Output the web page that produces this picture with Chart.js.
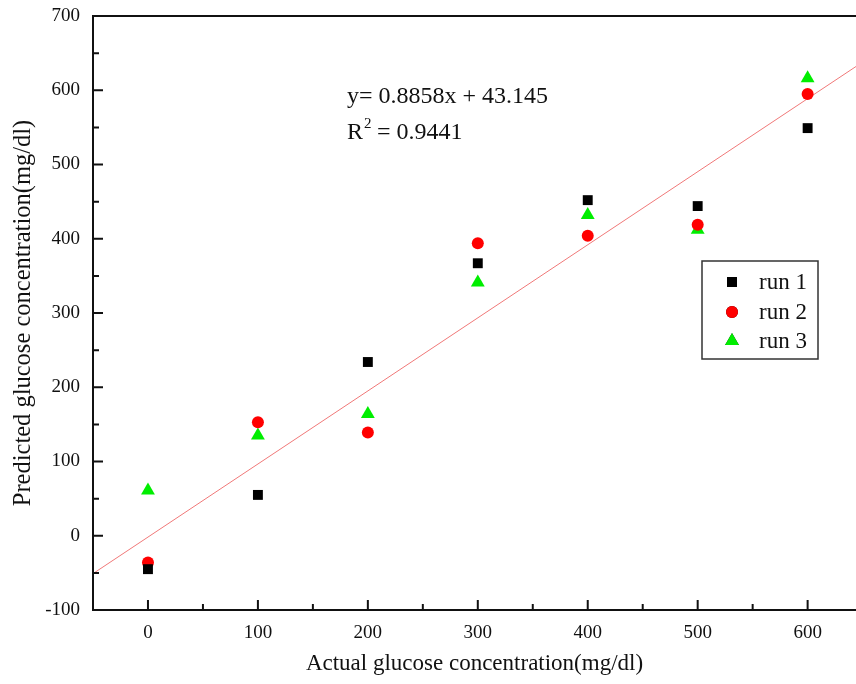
<!DOCTYPE html>
<html>
<head>
<meta charset="utf-8">
<script src="https://cdn.jsdelivr.net/npm/chart.js@4/dist/chart.umd.min.js"></script>
<style>
  body { margin: 0; background: #fff; overflow: hidden; }
  canvas { display: block; }
</style>
</head>
<body>
<canvas id="grafico" width="864" height="684"></canvas>
<script>
// datos
const concentracion = [0, 100, 200, 300, 400, 500, 600];
const run1 = [-45, 55, 234, 367, 452, 444, 549];
const run2 = [-36, 153, 139, 394, 404, 419, 595];
const run3 = [61, 135, 164, 341, 432, 412, 616];
const ajusteX = [-50, 645];
const ajusteY = [-51, 633];
const ticksX = [0, 100, 200, 300, 400, 500, 600];
const ticksY = [-100, 0, 100, 200, 300, 400, 500, 600, 700];
const nombres = ['run 1', 'run 2', 'run 3'];

const fuente = '"Liberation Serif", "Times New Roman", serif';
const tinta = '#111';

const puntos = (ys) => concentracion.map((x, i) => ({ x: x, y: ys[i] }));

// ticks hacia adentro, marco superior, ecuacion y leyenda
const extras = {
    id: 'extras',
    afterDraw(chart) {
        const ctx = chart.ctx;
        const a = chart.chartArea;
        const sx = chart.scales.x, sy = chart.scales.y;
        ctx.save();
        ctx.strokeStyle = tinta;
        ctx.lineWidth = 2;
        ctx.beginPath();
        ctx.moveTo(a.left - 1, a.top); ctx.lineTo(a.right, a.top);
        ticksX.forEach(v => {
            const p = sx.getPixelForValue(v);
            ctx.moveTo(p, a.bottom); ctx.lineTo(p, a.bottom - 10);
            const m = sx.getPixelForValue(v + 50);
            if (m < a.right) { ctx.moveTo(m, a.bottom); ctx.lineTo(m, a.bottom - 6); }
        });
        ticksY.forEach(v => {
            const p = sy.getPixelForValue(v);
            ctx.moveTo(a.left, p); ctx.lineTo(a.left + 10, p);
            if (v + 50 < 700) {
                const m = sy.getPixelForValue(v + 50);
                ctx.moveTo(a.left, m); ctx.lineTo(a.left + 6, m);
            }
        });
        ctx.stroke();

        // ecuacion
        ctx.fillStyle = tinta;
        ctx.textBaseline = 'alphabetic';
        ctx.font = '24px ' + fuente;
        ctx.fillText('y= 0.8858x + 43.145', 347, 103);
        ctx.fillText('R', 347, 139);
        const wR = ctx.measureText('R').width;
        ctx.font = '15px ' + fuente;
        ctx.fillText('2', 347 + wR + 1, 128);
        ctx.font = '24px ' + fuente;
        ctx.fillText(' = 0.9441', 347 + wR + 8, 139);

        // leyenda
        ctx.lineWidth = 1.5;
        ctx.strokeStyle = '#333';
        ctx.strokeRect(702, 261, 116, 98);
        const filas = [282, 312, 341];
        chart.data.datasets.slice(0, 3).forEach((d, i) => {
            Chart.helpers.drawPoint(ctx, {
                pointStyle: d.pointStyle, radius: d.pointRadius, rotation: 0, borderWidth: 0
            }, 732, filas[i]);
            ctx.fillStyle = d.backgroundColor;
            ctx.fill();
            ctx.fillStyle = tinta;
            ctx.font = '23px ' + fuente;
            ctx.textBaseline = 'middle';
            ctx.fillText(nombres[i], 759, filas[i] + 1);
        });
        ctx.restore();
    }
};

new Chart(document.getElementById('grafico'), {
    type: 'scatter',
    data: {
        datasets: [
            { label: nombres[0], data: puntos(run1), pointStyle: 'rect', pointRadius: 7,
              backgroundColor: '#000', borderWidth: 0, order: 1 },
            { label: nombres[1], data: puntos(run2), pointStyle: 'circle', pointRadius: 6,
              backgroundColor: '#ff0000', borderWidth: 0, order: 2 },
            { label: nombres[2], data: puntos(run3), pointStyle: 'triangle', pointRadius: 8,
              backgroundColor: '#00ee00', borderWidth: 0, order: 3 },
            { type: 'line', label: 'ajuste', data: ajusteX.map((x, i) => ({ x: x, y: ajusteY[i] })),
              borderColor: '#f07878', borderWidth: 1, pointRadius: 0, fill: false, order: 10 }
        ]
    },
    options: {
        responsive: false,
        animation: false,
        devicePixelRatio: 1,
        layout: { padding: { top: 16, right: 0, left: 0, bottom: 0 } },
        plugins: { legend: { display: false }, tooltip: { enabled: false } },
        scales: {
            x: {
                type: 'linear', min: -50, max: 644,
                afterBuildTicks: (s) => { s.ticks = ticksX.map(v => ({ value: v })); },
                afterFit: (s) => { s.height = 74; s.paddingLeft = 0; s.paddingRight = 0; },
                grid: { display: true, drawOnChartArea: false, drawTicks: false },
                border: { display: true, color: tinta, width: 2 },
                ticks: { color: tinta, padding: 12, font: { family: fuente, size: 19 } },
                title: { display: true, text: 'Actual glucose concentration(mg/dl)', color: tinta,
                         padding: { top: 0, bottom: 6 }, font: { family: fuente, size: 23 } }
            },
            y: {
                type: 'linear', min: -100, max: 700,
                afterBuildTicks: (s) => { s.ticks = ticksY.map(v => ({ value: v })); },
                afterFit: (s) => { s.width = 93; s.paddingTop = 0; s.paddingBottom = 0; },
                grid: { display: true, drawOnChartArea: false, drawTicks: false },
                border: { display: true, color: tinta, width: 2 },
                ticks: { color: tinta, padding: 13, font: { family: fuente, size: 19 } },
                title: { display: true, text: 'Predicted glucose concentration(mg/dl)', color: tinta,
                         padding: { top: 9, bottom: 0 }, font: { family: fuente, size: 24.5 } }
            }
        }
    },
    plugins: [extras]
});
</script>
</body>
</html>
